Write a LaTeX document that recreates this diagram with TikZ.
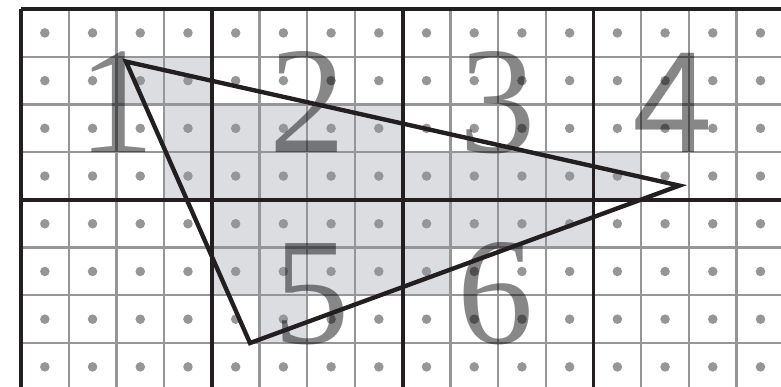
\documentclass[tikz,border=0pt]{standalone}
\usepackage{fontspec}
\setmainfont{Liberation Serif}
\newfontfamily\digitsans{Liberation Sans}
\usepackage{xcolor}
\usepackage{tikz}
\definecolor{cellshade}{RGB}{220,221,224}
\definecolor{gridgray}{RGB}{150,150,153}
\definecolor{linedark}{RGB}{35,31,32}

\begin{document}
\begin{tikzpicture}[
    covered/.style={fill=cellshade},
    finegrid/.style={draw=gridgray, line width=1.4pt},
    coarsegrid/.style={draw=linedark, line width=2.3pt},
    sample/.style={fill=gridgray},
    numeral/.style={anchor=base, inner sep=0pt, text=black, text opacity=0.47, font=\fontsize{91}{91}\selectfont},
    tri/.style={draw=linedark, line width=2.6pt, line join=miter},
]
    \useasboundingbox (-0.44,0.19) rectangle (15.93,-7.92);
    \clip (-0.44,0.19) rectangle (15.93,-7.92);

    % covered cells
    \foreach \r/\a/\b in {1/2/3, 2/3/7, 3/3/12, 4/4/11, 5/4/8, 6/5/5}
        \foreach \c in {\a,...,\b}
            \fill[covered] (\c,-\r) rectangle ++(1,-1);

    \draw[finegrid] (0,0) grid (17,-9);
    \draw[coarsegrid, step=4] (0,0) grid (17,-9);

    % sample points
    \foreach \c in {0,...,15}
        \foreach \r in {0,...,7}
            \fill[sample] (\c+0.5,-\r-0.5) circle (0.1);

    \node[numeral] (n1) at (2,-3) {1};
    \node[numeral] (n2) at (6,-3) {2};
    \node[numeral] (n3) at (10,-3) {3};
    \node[numeral, font=\digitsans\fontsize{86}{86}\selectfont] (n4) at (13.65,-3) {4};
    \node[numeral] (n5) at (6.1,-7) {5};
    \node[numeral] (n6) at (9.95,-7) {6};

    \coordinate (A) at (2.2,-1.1);
    \coordinate (B) at (13.8,-3.7);
    \coordinate (C) at (4.8,-7.0);
    \draw[tri] (A) -- (B) -- (C) -- cycle;
\end{tikzpicture}
\end{document}
